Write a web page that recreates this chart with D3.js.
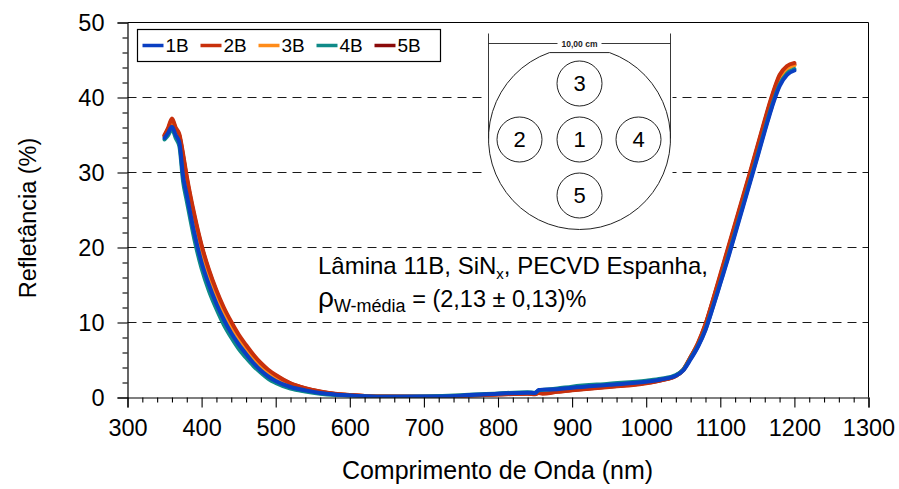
<!DOCTYPE html>
<html>
<head>
<meta charset="utf-8">
<script src="https://cdn.jsdelivr.net/npm/d3@7/dist/d3.min.js"></script>
<style>
  html, body { margin: 0; padding: 0; background: #fff; }
  svg { display: block; font-family: "Liberation Sans", Arial, sans-serif; }
</style>
</head>
<body>
<svg id="chart" width="899" height="489"></svg>
<script>
// Wavelength grid (nm) shared by all measurement spots
const wavelength = [350,355,360,365,370,375,380,390,400,410,420,430,440,450,460,470,480,490,500,520,540,560,580,600,620,650,700,750,800,840,850,855,860,880,900,950,1000,1020,1040,1050,1060,1070,1080,1090,1100,1110,1120,1130,1140,1150,1160,1170,1180,1190,1200];

// Reflectance (%) measured at each spot of the wafer
const r1B = [34.6,35.3,36.1,35.0,34.0,29.5,27.0,22.0,18.0,15.0,12.5,10.4,8.6,7.1,5.8,4.6,3.6,2.8,2.2,1.4,0.95,0.6,0.4,0.28,0.18,0.1,0.12,0.25,0.5,0.65,0.6,1.0,1.05,1.1,1.3,1.7,2.1,2.4,2.9,3.6,5.1,6.8,9.0,12.0,15.2,18.4,21.8,25.2,28.6,32.0,35.5,38.8,41.5,43.0,43.6];
const r2B = [35.0,36.0,37.2,36.0,35.1,32.5,29.5,24.5,20.3,17.0,14.3,12.0,10.1,8.4,7.0,5.7,4.6,3.7,3.0,1.9,1.25,0.8,0.5,0.33,0.2,0.12,0.1,0.2,0.4,0.5,0.45,0.6,0.5,0.75,0.95,1.4,1.9,2.3,2.9,3.7,5.4,7.3,9.8,13.0,16.4,19.8,23.2,26.6,30.0,33.5,37.0,40.3,43.0,44.2,44.6];
const r3B = [34.8,35.7,36.7,35.6,34.6,31.5,28.5,23.5,19.5,16.3,13.6,11.4,9.5,7.9,6.5,5.3,4.2,3.4,2.7,1.75,1.15,0.72,0.46,0.3,0.19,0.11,0.11,0.22,0.45,0.6,0.55,0.8,0.8,0.95,1.15,1.55,2.0,2.35,2.9,3.65,5.3,7.1,9.5,12.6,15.9,19.2,22.6,26.0,29.4,32.8,36.3,39.6,42.4,43.8,44.3];
const r4B = [34.4,35.0,35.8,34.6,33.5,28.8,26.2,21.2,17.2,14.2,11.8,9.7,8.0,6.5,5.3,4.2,3.3,2.5,1.95,1.2,0.8,0.5,0.32,0.22,0.15,0.1,0.15,0.3,0.55,0.7,0.65,0.95,1.0,1.2,1.45,1.85,2.25,2.5,3.0,3.7,5.2,6.9,9.1,12.1,15.3,18.6,22.0,25.4,28.8,32.2,35.7,39.0,41.7,43.2,43.8];
const r5B = [34.9,35.8,37.0,35.8,34.9,32.2,29.2,24.2,20.1,16.8,14.1,11.8,9.9,8.2,6.8,5.55,4.45,3.6,2.9,1.85,1.2,0.78,0.48,0.32,0.2,0.12,0.1,0.2,0.42,0.52,0.48,0.65,0.6,0.8,1.0,1.45,1.95,2.3,2.9,3.7,5.4,7.2,9.7,12.9,16.2,19.6,23.0,26.4,29.8,33.3,36.8,40.1,42.8,44.0,44.4];

const seriesNames = ["1B","2B","3B","4B","5B"];
const seriesColors = ["#0a3fc2","#c8300c","#ff8c1a","#0f8a88","#8b0a0a"];
const seriesValues = [r1B, r2B, r3B, r4B, r5B];
const drawOrder = ["5B","3B","2B","4B","1B"];

const xMajor = [300,400,500,600,700,800,900,1000,1100,1200,1300];
const yMajor = [0,10,20,30,40,50];
const gridValues = [10,20,30,40];

const W = 899, H = 489;
const margin = {top: 22, right: 31, bottom: 92, left: 127};
const iw = W - margin.left - margin.right;
const ih = H - margin.top - margin.bottom;

const svg = d3.select("#chart");
svg.append("rect").attr("width", W).attr("height", H).attr("fill", "#fff");

const g = svg.append("g").attr("transform", `translate(${margin.left + 0.5},${margin.top + 0.5})`);

const x = d3.scaleLinear().domain([300, 1300]).range([0, iw]);
const y = d3.scaleLinear().domain([0, 50]).range([ih, 0]);

// dashed horizontal grid
g.append("g").selectAll("line").data(gridValues).join("line")
  .attr("x1", 0).attr("x2", iw)
  .attr("y1", d => y(d)).attr("y2", d => y(d))
  .attr("stroke", "#1a1a1a").attr("stroke-width", 1)
  .attr("stroke-dasharray", "9,6");

// frame (top and right)
g.append("line").attr("x1", 0).attr("x2", iw).attr("y1", 0).attr("y2", 0).attr("stroke", "#000");
g.append("line").attr("x1", iw).attr("x2", iw).attr("y1", 0).attr("y2", ih).attr("stroke", "#000");

// wafer sketch with a white backdrop over the grid
const inset = g.append("g").attr("transform", `translate(${579 - margin.left},${138 - margin.top})`);
inset.append("rect").attr("x", -93).attr("y", -106).attr("width", 186).attr("height", 200).attr("fill", "#fff");
const R = 91;
const flatHalf = 30;
const flatY = -Math.sqrt(R * R - flatHalf * flatHalf);
inset.append("path")
  .attr("d", `M${-flatHalf},${flatY} L${flatHalf},${flatY} A${R},${R} 0 1 1 ${-flatHalf},${flatY}`)
  .attr("fill", "none").attr("stroke", "#222").attr("stroke-width", 1);
// dimension line
inset.append("line").attr("x1", -R).attr("x2", -R).attr("y1", -105).attr("y2", 0).attr("stroke", "#222").attr("stroke-width", 0.9);
inset.append("line").attr("x1", R).attr("x2", R).attr("y1", -105).attr("y2", 0).attr("stroke", "#222").attr("stroke-width", 0.9);
inset.append("line").attr("x1", -R).attr("x2", -22).attr("y1", -95).attr("y2", -95).attr("stroke", "#222").attr("stroke-width", 0.9);
inset.append("line").attr("x1", 22).attr("x2", R).attr("y1", -95).attr("y2", -95).attr("stroke", "#222").attr("stroke-width", 0.9);
inset.append("text").attr("x", 0).attr("y", -92).attr("text-anchor", "middle")
  .attr("font-size", 8.5).attr("font-weight", "bold").attr("fill", "#222").text("10,00 cm");
const spots = [
  {label: "1", dx: 0, dy: 1},
  {label: "2", dx: -60, dy: 1},
  {label: "3", dx: 0, dy: -55},
  {label: "4", dx: 59, dy: 1},
  {label: "5", dx: 0, dy: 57}
];
const spotG = inset.selectAll("g.spot").data(spots).join("g").attr("class", "spot")
  .attr("transform", d => `translate(${d.dx},${d.dy})`);
spotG.append("circle").attr("r", 22.5).attr("fill", "none").attr("stroke", "#222").attr("stroke-width", 1);
spotG.append("text").attr("text-anchor", "middle").attr("dy", "0.36em")
  .attr("font-size", 22).attr("fill", "#000").text(d => d.label);

// curves
const clip = svg.append("clipPath").attr("id", "plotClip");
clip.append("rect").attr("width", iw).attr("height", ih);

const line = d3.line()
  .x((d, i) => x(wavelength[i]))
  .y(d => y(d))
  .curve(d3.curveMonotoneX);

const curves = g.append("g").attr("clip-path", "url(#plotClip)");
drawOrder.forEach(name => {
  const k = seriesNames.indexOf(name);
  curves.append("path")
    .datum(seriesValues[k])
    .attr("d", line)
    .attr("fill", "none")
    .attr("stroke", seriesColors[k])
    .attr("stroke-width", 4)
    .attr("stroke-linejoin", "round")
    .attr("stroke-linecap", "round");
});

// axes
const xMinor = d3.range(300, 1301, 20).filter(v => v % 100 !== 0);
const yMinor = d3.range(0, 51, 2).filter(v => v % 10 !== 0);

g.append("g").attr("transform", `translate(0,${ih})`)
  .call(d3.axisBottom(x).tickValues(xMajor).tickSize(10).tickPadding(12).tickFormat(d3.format("d")));
g.append("g").attr("transform", `translate(0,${ih})`)
  .call(d3.axisBottom(x).tickValues(xMinor).tickSize(5).tickFormat(""))
  .select(".domain").remove();
g.append("g")
  .call(d3.axisLeft(y).tickValues(yMajor).tickSize(10).tickPadding(13).tickFormat(d3.format("d")));
g.append("g")
  .call(d3.axisLeft(y).tickValues(yMinor).tickSize(5).tickFormat(""))
  .select(".domain").remove();

g.selectAll(".domain").attr("stroke", "#000").attr("stroke-width", 1.2);
g.selectAll(".tick line").attr("stroke", "#000").attr("stroke-width", 1.1);
g.selectAll(".tick text").attr("font-size", 23.5).attr("fill", "#000")
  .attr("font-family", "'Liberation Sans', Arial, sans-serif");

// axis titles
svg.append("text")
  .attr("transform", `translate(36,218) rotate(-90)`)
  .attr("text-anchor", "middle").attr("font-size", 23.5).attr("fill", "#000")
  .text("Refletância (%)");
svg.append("text")
  .attr("x", margin.left + iw / 2).attr("y", 479)
  .attr("text-anchor", "middle").attr("font-size", 25).attr("fill", "#000")
  .text("Comprimento de Onda (nm)");

// annotation
const note1 = svg.append("text").attr("x", 318).attr("y", 274).attr("font-size", 24).attr("fill", "#000");
note1.append("tspan").text("Lâmina 11B, SiN");
note1.append("tspan").attr("font-size", 15).attr("dy", 5).text("x");
note1.append("tspan").attr("dy", -5).text(", PECVD Espanha,");

const note2 = svg.append("text").attr("x", 318).attr("y", 307).attr("font-size", 23.5).attr("fill", "#000");
note2.append("tspan").attr("font-size", 28).text("ρ");
note2.append("tspan").attr("font-size", 18).attr("dy", 5).text("W-média");
note2.append("tspan").attr("dy", -5).text(" = (2,13 ± 0,13)%");

// legend
const legend = svg.append("g").attr("transform", "translate(137.5,29.5)");
legend.append("rect").attr("width", 303).attr("height", 32)
  .attr("fill", "#fff").attr("stroke", "#000").attr("stroke-width", 1.2);
const items = legend.selectAll("g.item").data(seriesNames).join("g").attr("class", "item")
  .attr("transform", (d, i) => `translate(${5 + i * 58},16)`);
items.append("line").attr("x1", 0).attr("x2", 21).attr("y1", 0).attr("y2", 0)
  .attr("stroke", (d, i) => seriesColors[i]).attr("stroke-width", 3.5);
items.append("text").attr("x", 23).attr("dy", "0.36em").attr("font-size", 19).attr("fill", "#000").text(d => d);
</script>
</body>
</html>
